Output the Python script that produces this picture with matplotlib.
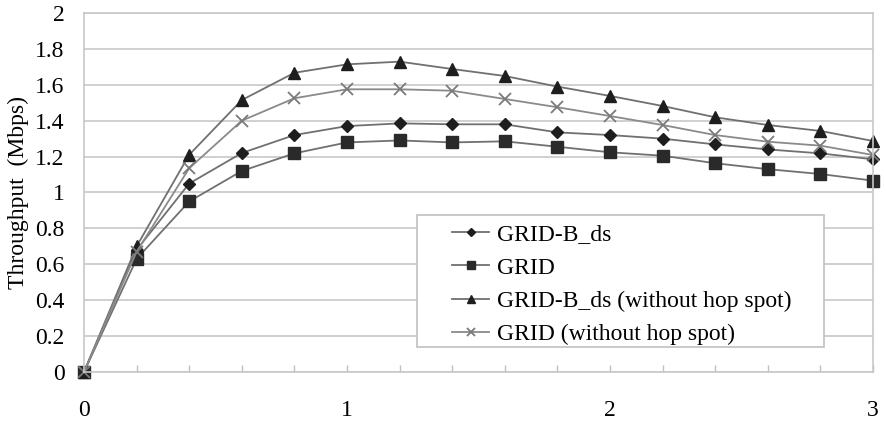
import numpy as np
import matplotlib
matplotlib.use("Agg")
import matplotlib.pyplot as plt
from matplotlib.patches import Rectangle

plt.rcParams['font.family'] = ['Liberation Serif', 'DejaVu Serif']

x = [0.0, 0.2, 0.4, 0.6, 0.8, 1.0, 1.2, 1.4, 1.6, 1.8, 2.0, 2.2, 2.4, 2.6, 2.8, 3.0]
grid_b_ds = [0.0, 0.68, 1.05, 1.22, 1.32, 1.37, 1.385, 1.38, 1.38, 1.335, 1.32, 1.30, 1.268, 1.24, 1.218, 1.185]
grid = [0.0, 0.63, 0.95, 1.12, 1.218, 1.279, 1.29, 1.279, 1.285, 1.255, 1.224, 1.205, 1.163, 1.13, 1.103, 1.066]
grid_b_ds_nohs = [0.0, 0.70, 1.21, 1.515, 1.667, 1.714, 1.729, 1.688, 1.649, 1.59, 1.538, 1.482, 1.419, 1.376, 1.343, 1.287]
grid_nohs = [0.0, 0.67, 1.135, 1.40, 1.525, 1.575, 1.575, 1.567, 1.521, 1.475, 1.426, 1.376, 1.32, 1.283, 1.261, 1.209]

labels = ['GRID-B_ds', 'GRID', 'GRID-B_ds (without hop spot)', 'GRID (without hop spot)']

fig = plt.figure(figsize=(8.86, 4.32), dpi=100)
ax = fig.add_axes([0.0948, 0.1389, 0.8905, 0.831])

line_c = '#707070'
mark_c = '#1e1e1e'
ax.plot(x, grid_b_ds, color=line_c, lw=1.3, marker='D', ms=6, mfc=mark_c, mec=mark_c, label=labels[0], clip_on=False)
ax.plot(x, grid, color=line_c, lw=1.3, marker='s', ms=8, mfc='#2a2a2a', mec='#2a2a2a', label=labels[1], clip_on=False)
ax.plot(x, grid_b_ds_nohs, color=line_c, lw=1.3, marker='^', ms=9, mfc=mark_c, mec=mark_c, label=labels[2], clip_on=False)
ax.plot(x, grid_nohs, color='#8a8a8a', lw=1.3, marker='x', ms=9, mew=1.3, mec='#7a7a7a', label=labels[3], clip_on=False)

ax.set_xlim(0, 3)
ax.set_ylim(0, 2)
ax.set_yticks(np.arange(0, 2.01, 0.2))
ax.set_yticklabels(['0', '0.2', '0.4', '0.6', '0.8', '1', '1.2', '1.4', '1.6', '1.8', '2'])
ax.set_xticks(x)
ax.set_xticklabels(['0' if v == 0 else (str(int(v)) if abs(v - round(v)) < 1e-9 else '') for v in x])
ax.tick_params(axis='y', length=0, pad=14, labelsize=17)
ax.tick_params(axis='x', direction='in', length=5, width=1, color='#c0c0c0', pad=20, labelsize=17)
ax.grid(axis='y', color='#c8c8c8', lw=1.2)
ax.set_axisbelow(True)
for s in ax.spines.values():
    s.set_color('#c8c8c8')
    s.set_linewidth(1.2)

ax.set_ylabel('Throughput  (Mbps)', fontsize=17, va='center')
ax.yaxis.set_label_coords(-0.083, 0.5)

# legend box (drawn separately so the padding matches the original)
box = Rectangle((0.422, 0.0696), 0.516, 0.3674, transform=ax.transAxes, facecolor='white',
                edgecolor='#c0c0c0', lw=1.2, zorder=4)
ax.add_patch(box)
leg = ax.legend(loc='upper left', bbox_to_anchor=(0.466, 0.413), fontsize=17, frameon=False,
                handlelength=1.6, handletextpad=0.34, markerscale=0.65, labelspacing=0.5,
                borderpad=0, borderaxespad=0)
leg.set_zorder(5)

fig.savefig('out.png', dpi=100)
